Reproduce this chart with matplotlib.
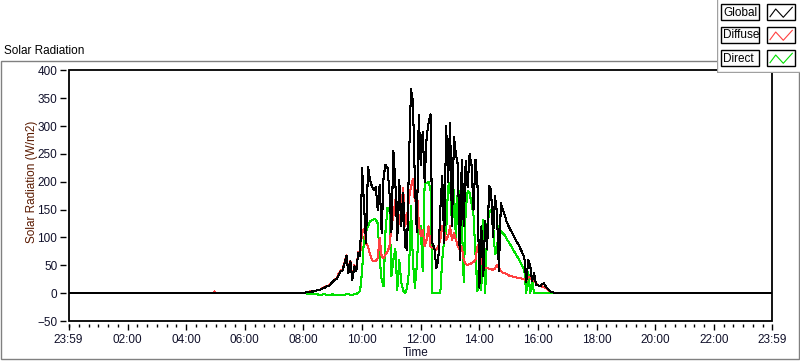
import numpy as np
import matplotlib
matplotlib.use("Agg")
import matplotlib.pyplot as plt
from matplotlib.patches import Rectangle

plt.rcParams['font.family'] = ['Liberation Sans', 'DejaVu Sans']

# minutes after midnight; day part sampled every 4 min from 08:00
night_t = [-1, 296, 298, 300]
night_global = [0, 0, 0, 0]
night_diffuse = [0, 0, 3, 0]
night_direct = [0, 0, 0, 0]

day_start = 480
day_step = 4

global_day = [
    0, 1, 2, 2, 3, 3, 4, 5, 5, 7,
    9, 10, 13, 12, 17, 21, 24, 25, 33, 39,
    41, 54, 67, 36, 57, 24, 48, 39, 72, 66,
    225, 156, 90, 227, 205, 192, 186, 190, 150, 195,
    108, 210, 231, 225, 180, 110, 255, 200, 96, 204,
    120, 180, 84, 78, 240, 366, 345, 200, 110, 320,
    230, 290, 200, 280, 306, 321, 90, 80, 45, 60,
    150, 210, 90, 300, 200, 306, 120, 280, 250, 230,
    60, 240, 120, 237, 190, 250, 230, 150, 240, 200,
    10, 120, 30, 130, 80, 192, 186, 100, 174, 144,
    40, 162, 150, 140, 128, 120, 113, 107, 100, 93,
    88, 80, 72, 65, 20, 59, 50, 22, 36, 15,
    14, 12, 16, 18, 12, 8, 4, 2, 1, 0, 0,
]
diffuse_day = [
    0, 1, 2, 3, 3, 4, 4, 5, 6, 7,
    10, 11, 13, 14, 17, 22, 24, 27, 35, 40,
    43, 55, 68, 38, 58, 27, 50, 42, 74, 70,
    111, 115, 90, 84, 70, 60, 57, 58, 63, 100,
    66, 63, 70, 75, 84, 120, 138, 168, 120, 125,
    150, 189, 120, 138, 170, 192, 205, 165, 186, 126,
    102, 114, 84, 96, 120, 84, 82, 80, 78, 85,
    96, 120, 112, 96, 102, 120, 96, 108, 96, 84,
    78, 84, 60, 52, 51, 52, 54, 56, 60, 84,
    88, 57, 47, 45, 45, 44, 43, 42, 44, 51,
    45, 40, 37, 36, 34, 32, 30, 30, 29, 28,
    27, 27, 26, 25, 23, 28, 30, 22, 22, 18,
    14, 13, 12, 11, 9, 7, 4, 2, 1, 0, 0,
]
direct_day = [
    0, 0, -1, -1, -2, -2, -2, -2, -3, -3,
    -2, -2, -3, -3, -3, -2, -3, -4, -3, -3,
    -3, -3, -2, -2, -3, -3, -2, -1, 0, 5,
    40, 100, 110, 120, 129, 131, 133, 132, 125, 60,
    24, 12, 114, 153, 150, 30, 60, 80, 6, 60,
    20, 5, 0, 10, 40, 156, 57, 10, 50, 120,
    120, 40, 198, 198, 200, 186, 0, 0, 0, 0,
    0, 60, 96, 110, 192, 198, 120, 186, 96, 192,
    170, 132, 20, 150, 183, 180, 160, 140, 72, 3,
    70, 6, 132, 0, 120, 144, 150, 125, 70, 78,
    120, 111, 108, 104, 97, 92, 86, 80, 74, 68,
    62, 56, 48, 42, 0, 38, 0, 23, 0, 1,
    0, 0, 0, 0, 0, 0, 0, 0, 0, 0, 0,
]

end_t = [1439]

tick_pos = [-1, 120, 240, 360, 480, 600, 720, 840, 960, 1080, 1200, 1320, 1439]
tick_labels = ['23:59', '02:00', '04:00', '06:00', '08:00', '10:00', '12:00',
               '14:00', '16:00', '18:00', '20:00', '22:00', '23:59']
y_ticks = [-50, 0, 50, 100, 150, 200, 250, 300, 350, 400]

series_names = ['Global', 'Diffuse', 'Direct']
series_colors = ['#000000', '#ff4040', '#00e000']

day_t = day_start + day_step * np.arange(len(global_day))
t = np.concatenate([night_t, day_t, end_t])
g = np.concatenate([night_global, global_day, [0]])
d = np.concatenate([night_diffuse, diffuse_day, [0]])
r = np.concatenate([night_direct, direct_day, [0]])

W, H = 800, 361
fig = plt.figure(figsize=(W / 100, H / 100), dpi=100)
fig.patch.set_facecolor('white')

# background panel (pixel coords)
bg = fig.add_axes([0, 0, 1, 1], zorder=0)
bg.set_xlim(0, W)
bg.set_ylim(H, 0)
bg.axis('off')
bg.add_patch(Rectangle((0.5, 61), 798, 298, fill=False, edgecolor='#808080', lw=1))
bg.text(4, 51, 'Solar Radiation', fontsize=8.5, va='center', ha='left')
bg.text(31.5, 182, 'Solar Radiation (W/m2)', fontsize=8.5, rotation=90,
        va='center', ha='center', color='#5a1a00')
bg.text(416, 353, 'Time', fontsize=8.5, va='center', ha='center', color='#10102a')

# main plot
ax = fig.add_axes([68.5 / W, 1 - 321 / H, 703.5 / W, 250.5 / H], zorder=1)
ax.set_facecolor('white')
ax.plot(t, r, color=series_colors[2], lw=0.75, antialiased=False)
ax.plot(t, d, color=series_colors[1], lw=0.75, antialiased=False)
ax.plot(t, g, color=series_colors[0], lw=0.75, antialiased=False)

ax.set_xlim(-1, 1439)
ax.set_ylim(-50, 400)
ax.set_xticks(tick_pos)
ax.set_xticklabels(tick_labels)
ax.set_xticks(np.arange(0, 1440, 20), minor=True)
ax.set_yticks(y_ticks)

for s in ax.spines.values():
    s.set_visible(False)
ax.spines['left'].set_position(('outward', 1.5))
ax.spines['bottom'].set_position(('outward', 2))
ax.add_patch(Rectangle((0, 0), 1, 1, transform=ax.transAxes, fill=False,
                       edgecolor='black', lw=1.3, clip_on=False, zorder=5))

ax.tick_params(axis='both', which='major', direction='out', length=4.5, width=1,
               labelsize=8.5, labelcolor='#10102a')
ax.tick_params(axis='y', pad=2)
ax.tick_params(axis='x', pad=3)
ax.tick_params(axis='x', which='minor', direction='out', length=2.5, width=1)
ax.tick_params(axis='y', which='minor', left=False)

# legend panel
lg = fig.add_axes([716.5 / W, 1 - 72.5 / H, 83.5 / W, 72.5 / H], zorder=3)
lg.set_xlim(716.5, 800)
lg.set_ylim(72.5, 0)
lg.axis('off')
lg.add_patch(Rectangle((716.5, 0), 83.5, 72.5, facecolor='white', edgecolor='none'))
lg.plot([717, 717, 800], [0, 72, 72], color='#a0a0a0', lw=1)
row_top = [4, 27, 50]
for name, color, y0 in zip(series_names, series_colors, row_top):
    lg.add_patch(Rectangle((721.5, y0), 38, 16, facecolor='#fbfbfb',
                           edgecolor='black', lw=1))
    lg.text(723.5, y0 + 8.5, name, fontsize=8.5, va='center', ha='left')
    lg.add_patch(Rectangle((767, y0), 28, 16, facecolor='white',
                           edgecolor='black', lw=1))
    lg.plot([770, 775.7, 783.3, 792.3],
            [y0 + 12.7, y0 + 5, y0 + 13.3, y0 + 3.3], color=color, lw=0.8)

fig.savefig('out.png', dpi=100)
